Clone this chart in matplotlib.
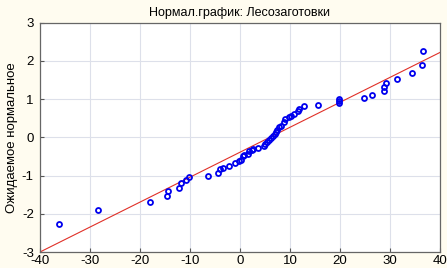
import numpy as np
import matplotlib as mpl
import matplotlib.pyplot as plt

mpl.rc('font', family=['Liberation Sans', 'DejaVu Sans'], size=9)
mpl.rcParams['axes.unicode_minus'] = False

obs = [-36.1, -28.3, -18.0, -14.6, -14.3, -12.1, -11.7, -10.8, -10.1, -6.4,
       -4.3, -3.9, -3.3, -2.1, -0.9, -0.2, 0.2, 0.7, 0.9, 1.7,
       1.9, 2.4, 2.7, 3.6, 4.8, 5.0, 5.5, 5.9, 6.3, 6.7,
       7.1, 7.3, 7.5, 7.9, 8.3, 8.9, 9.1, 9.8, 10.2, 10.8,
       11.7, 11.9, 12.9, 15.7, 19.8, 19.8, 19.8, 24.8, 26.4, 28.9,
       28.9, 29.2, 31.4, 34.5, 36.4, 36.7]
expected = [-2.26, -1.90, -1.69, -1.54, -1.41, -1.33, -1.20, -1.12, -1.04, -1.00,
            -0.92, -0.84, -0.80, -0.75, -0.68, -0.62, -0.58, -0.50, -0.46, -0.43,
            -0.37, -0.32, -0.30, -0.27, -0.23, -0.17, -0.12, -0.07, -0.03, 0.04,
            0.09, 0.14, 0.19, 0.26, 0.31, 0.41, 0.47, 0.52, 0.56, 0.60,
            0.68, 0.74, 0.81, 0.84, 0.90, 0.96, 1.01, 1.04, 1.12, 1.20,
            1.33, 1.41, 1.53, 1.69, 1.90, 2.26]

# fitted line end points
line_x = [-40, 40]
line_y = [-3.0, 2.22]

xticks = [-40, -30, -20, -10, 0, 10, 20, 30, 40]
yticks = [-3, -2, -1, 0, 1, 2, 3]

fig = plt.figure(figsize=(4.47, 2.68), dpi=100, facecolor='#fffcf0')
ax = fig.add_axes([0.0895, 0.0597, 0.8945, 0.8556])
ax.set_facecolor('white')

ax.plot(line_x, line_y, '-', color='#e03028', lw=0.8, zorder=2)
ax.plot(obs, expected, 'o', mfc='none', mec='#0000ee', mew=1.3, ms=3.6, zorder=3)

ax.set_xlim(-40, 40)
ax.set_ylim(-3, 3)
ax.set_xticks(xticks)
ax.set_yticks(yticks)
ax.grid(True, color='#dde0ea', lw=0.8)
ax.set_axisbelow(True)
ax.tick_params(direction='in', length=3, width=0.8, color='#555555', labelsize=9.5)
ax.tick_params(axis='x', pad=2.5)
ax.tick_params(axis='y', pad=4.5)
for s in ax.spines.values():
    s.set_color('#666666')
    s.set_linewidth(0.9)

ax.set_title("Нормал.график: Лесозаготовки", fontsize=9, pad=5)
ax.set_ylabel("Ожидаемое нормальное", fontsize=9.5, labelpad=3)

plt.savefig("out.png", dpi=100, facecolor=fig.get_facecolor())
